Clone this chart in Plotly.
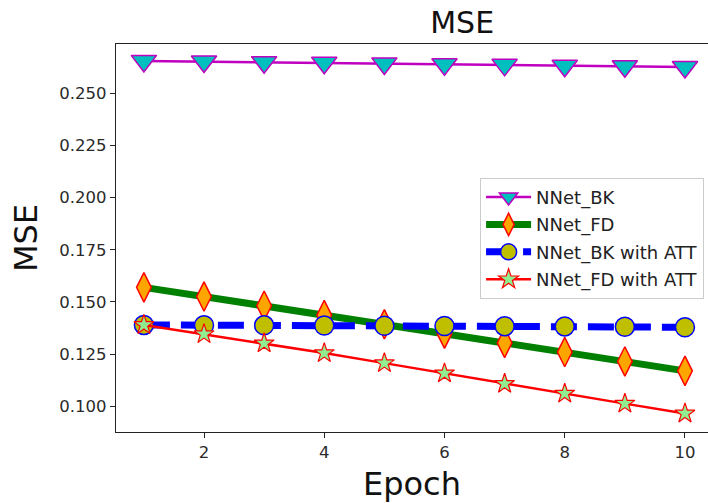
import plotly.graph_objects as go

# Training curves: mean squared error per epoch for each model variant
epochs = [1, 2, 3, 4, 5, 6, 7, 8, 9, 10]
nnet_bk = [0.2655, 0.2652, 0.2649, 0.2646, 0.2643, 0.2639, 0.2636, 0.2632, 0.2629, 0.2626]
nnet_fd = [0.1570, 0.1526, 0.1482, 0.1437, 0.1393, 0.1348, 0.1304, 0.1260, 0.1215, 0.1170]
nnet_bk_att = [0.1390, 0.1389, 0.1388, 0.1387, 0.1386, 0.1385, 0.1384, 0.1383, 0.1381, 0.1379]
nnet_fd_att = [0.1390, 0.1346, 0.1302, 0.1255, 0.1207, 0.1158, 0.1108, 0.1061, 0.1013, 0.0966]

x_ticks = [2, 4, 6, 8, 10]
y_ticks = [0.100, 0.125, 0.150, 0.175, 0.200, 0.225, 0.250]

FONT = "DejaVu Sans"

fig = go.Figure()

fig.add_trace(go.Scatter(
    x=epochs, y=nnet_bk, name="NNet_BK", mode="lines+markers", legendgroup="a",
    line=dict(color="#bf00bf", width=2.5),
    marker=dict(symbol="triangle-down", size=22, color="#00bfbf",
                line=dict(color="#bf00bf", width=1.5)),
))
fig.add_trace(go.Scatter(
    x=epochs, y=nnet_fd, name="NNet_FD", mode="lines+markers", legendgroup="b",
    line=dict(color="#008000", width=7),
    marker=dict(symbol="diamond-tall", size=21, color="#ffa500",
                line=dict(color="#ff0000", width=1.5)),
))
fig.add_trace(go.Scatter(
    x=epochs, y=nnet_bk_att, name="NNet_BK with ATT", mode="lines+markers", legendgroup="c",
    line=dict(color="#0000ff", width=7, dash="26px,11px"),
    marker=dict(symbol="circle", size=19, color="#bfbf00",
                line=dict(color="#0000ff", width=1.5)),
))
fig.add_trace(go.Scatter(
    x=epochs, y=nnet_fd_att, name="NNet_FD with ATT", mode="lines+markers", legendgroup="d",
    line=dict(color="#ff0000", width=2.5),
    marker=dict(symbol="star", size=15, color="#90ee90",
                line=dict(color="#ff0000", width=1.2)),
))

fig.update_layout(
    width=708, height=503,
    margin=dict(l=116, r=0, t=44, b=71),
    paper_bgcolor="white", plot_bgcolor="white",
    font=dict(family=FONT, color="#222222"),
    title=dict(text="MSE", x=414 / 708, xanchor="center", xref="paper",
               y=1 - 22 / 503, yanchor="middle", yref="container",
               font=dict(family=FONT, size=30, color="#111111")),
    legend=dict(x=0.615, y=0.655, xanchor="left", yanchor="top",
                bgcolor="white", bordercolor="#cccccc", borderwidth=1,
                tracegroupgap=1, itemwidth=45,
                font=dict(family=FONT, size=18, color="#222222")),
    showlegend=True,
)

fig.update_xaxes(
    range=[0.536, 10.383], tickvals=x_ticks, ticktext=[str(v) for v in x_ticks],
    showgrid=False, zeroline=False,
    showline=True, linecolor="#222222", linewidth=1.2, mirror=True,
    ticks="outside", ticklen=5, tickwidth=1.1, tickcolor="#222222",
    tickfont=dict(family=FONT, size=16.5, color="#2a2a2a"),
    title=dict(text="Epoch", standoff=11, font=dict(family=FONT, size=32, color="#111111")),
)
fig.update_yaxes(
    range=[0.0877, 0.2736], tickvals=y_ticks, ticktext=[f"{v:.3f}" for v in y_ticks],
    showgrid=False, zeroline=False,
    showline=True, linecolor="#222222", linewidth=1.2, mirror=False,
    ticks="outside", ticklen=5, tickwidth=1.1, tickcolor="#222222",
    tickfont=dict(family=FONT, size=16.5, color="#2a2a2a"),
    title=dict(text="MSE", standoff=12, font=dict(family=FONT, size=32, color="#111111")),
)

fig.write_html("out.html")
